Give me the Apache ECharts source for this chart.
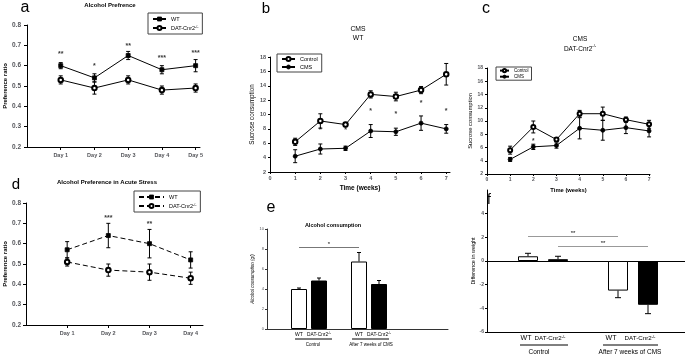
<!DOCTYPE html>
<html>
<head>
<meta charset="utf-8">
<script src="https://cdn.jsdelivr.net/npm/echarts@6/dist/echarts.min.js"></script>
<style>
html, body { margin: 0; padding: 0; background: #fff; }
#chart { width: 685px; height: 356px; }
</style>
</head>
<body>
<div id="chart"></div>
<script>
// a - alcohol preference
const daysA = [1, 2, 3, 4, 5];
const dayLabelsA = ['Day 1', 'Day 2', 'Day 3', 'Day 4', 'Day 5'];
const wtPrefA = [0.60, 0.54, 0.65, 0.58, 0.60];
const wtPrefErrA = [0.015, 0.02, 0.02, 0.02, 0.03];
const datPrefA = [0.53, 0.49, 0.53, 0.48, 0.49];
const datPrefErrA = [0.02, 0.03, 0.02, 0.02, 0.02];
const starsA = ['**', '*', '**', '***', '***'];
const starYA = [0.665, 0.61, 0.705, 0.645, 0.67];

// b / c - sucrose consumption (CMS)
const weeks = [1, 2, 3, 4, 5, 6, 7];
const weekTicks = [0, 1, 2, 3, 4, 5, 6, 7];
const ctrlB = [6.2, 9.1, 8.6, 12.8, 12.5, 13.4, 15.6];
const ctrlErrB = [0.5, 1.0, 0.3, 0.5, 0.6, 0.5, 1.5];
const cmsB = [4.2, 5.2, 5.3, 7.7, 7.6, 8.8, 8.0];
const cmsErrB = [0.9, 0.7, 0.3, 0.9, 0.5, 1.0, 0.6];
const starsB = ['', '*', '*', '*', '*', '*', '*'];
const starYB = [0, 8.1, 8.1, 10.8, 10.3, 11.9, 10.8];

const ctrlC = [5.6, 9.1, 7.2, 11.1, 11.1, 10.2, 9.5];
const ctrlErrC = [0.6, 0.9, 0.3, 0.5, 1.0, 0.4, 0.6];
const cmsC = [4.2, 6.1, 6.3, 8.9, 8.6, 9.0, 8.5];
const cmsErrC = [0.3, 0.4, 0.4, 1.6, 1.5, 0.9, 0.9];
const starsC = ['', '*', '', '', '', '', ''];
const starYC = [0, 7.2, 0, 0, 0, 0, 0];

// d - acute stress
const daysD = [1, 2, 3, 4];
const dayLabelsD = ['Day 1', 'Day 2', 'Day 3', 'Day 4'];
const wtPrefD = [0.57, 0.64, 0.60, 0.52];
const wtPrefErrD = [0.04, 0.06, 0.07, 0.04];
const datPrefD = [0.51, 0.47, 0.46, 0.43];
const datPrefErrD = [0.02, 0.03, 0.04, 0.03];
const starsD = ['', '***', '**', ''];
const starYD = [0, 0.735, 0.705, 0];

// e / f - bar panels (WT, DAT control; WT, DAT after CMS)
const genotypes = ['WT', 'DAT-Cnr2-/-'];
const groups = ['Control', 'After 7 weeks of CMS'];
const barCats = ['Control WT', 'Control DAT', 'gap', 'CMS WT', 'CMS DAT'];
const barSlots = [0, 1, 3, 4];
const barFills = ['#fff', '#000', '#fff', '#000'];
const alcohol = [4.0, 4.85, 6.75, 4.5];
const alcoholErr = [0.1, 0.25, 0.9, 0.35];
const weightDiff = [0.4, 0.15, -2.5, -3.7];
const weightDiffErr = [0.25, 0.25, 0.6, 0.75];

const FONT = 'Liberation Sans';
const supRich = {
  n: { fontSize: 5.5, fontFamily: FONT },
  s: { fontSize: 3.5, fontFamily: FONT, verticalAlign: 'top', lineHeight: 6 }
};

function pts(xs, ys) { return xs.map((x, i) => [x, ys[i]]); }
function errPts(xs, ys, es) { return xs.map((x, i) => [x, ys[i], es[i]]); }
function starPts(xs, ys, st) {
  return xs.map((x, i) => [x, ys[i], st[i]]).filter(d => d[2] !== '');
}
function withGap(arr, fills) {
  const out = barCats.map(() => '-');
  barSlots.forEach((s, i) => {
    out[s] = { value: arr[i], itemStyle: { color: fills[i] } };
  });
  return out;
}

function capLines(p, q, cap) {
  const st = { stroke: '#000', lineWidth: 1 };
  const kids = [{ type: 'line', shape: { x1: p[0], y1: p[1], x2: q[0], y2: q[1] }, style: st }];
  kids.push({ type: 'line', shape: { x1: q[0] - cap, y1: q[1], x2: q[0] + cap, y2: q[1] }, style: st });
  return kids;
}
function errRender(cap) {
  return function (params, api) {
    const x = api.value(0), y = api.value(1), e = api.value(2);
    const top = api.coord([x, y + e]);
    const bot = api.coord([x, y - e]);
    const mid = api.coord([x, y]);
    return { type: 'group', children: capLines(mid, top, cap).concat(capLines(mid, bot, cap)) };
  };
}
function barErrRender(cap) {
  return function (params, api) {
    const x = api.value(0), y = api.value(1), e = api.value(2);
    const p = api.coord([x, y]);
    const q = api.coord([x, y >= 0 ? y + e : y - e]);
    return { type: 'group', children: capLines(p, q, cap) };
  };
}

const blackAxis = { lineStyle: { color: '#000', width: 1 } };

function legendFmt(name) {
  const n = name.trim();
  if (n.indexOf('-/-') > 0) return '{n|' + n.replace('-/-', '') + '}{s|-/-}';
  return '{n|' + n + '}';
}

function lineSeries(name, xi, yi, data, symbol, dashed, size) {
  return {
    name: name, type: 'line', xAxisIndex: xi, yAxisIndex: yi, data: data,
    symbol: symbol, symbolSize: size || 4, z: 3,
    lineStyle: { color: '#000', width: 1, type: dashed ? [5, 3] : 'solid' },
    itemStyle: { color: '#000', borderColor: '#000', borderWidth: 0.8 },
    animation: false
  };
}
function errSeries(xi, yi, data, cap) {
  return {
    type: 'custom', xAxisIndex: xi, yAxisIndex: yi, data: data, z: 2,
    renderItem: errRender(cap), encode: { x: 0, y: 1 }, silent: true, animation: false
  };
}
function starSeries(xi, yi, data, size) {
  return {
    type: 'scatter', xAxisIndex: xi, yAxisIndex: yi, data: data, symbolSize: 0, z: 4,
    label: { show: true, position: 'inside', formatter: p => p.value[2], color: '#000',
      fontSize: size, fontWeight: 'bold', fontFamily: FONT, offset: [0, 2] },
    silent: true, animation: false
  };
}

const chart = echarts.init(document.getElementById('chart'), null, { renderer: 'canvas' });

const legendBase = {
  orient: 'vertical', selectedMode: false, borderColor: '#444', borderWidth: 1,
  formatter: legendFmt, itemStyle: { borderWidth: 0.8 }
};

const option = {
  animation: false,
  backgroundColor: '#fff',
  textStyle: { fontFamily: FONT, color: '#000' },
  grid: [
    { left: 27, top: 25, width: 173, height: 122 },
    { left: 270, top: 57, width: 180, height: 115 },
    { left: 487, top: 68, width: 163, height: 106 },
    { left: 26, top: 203, width: 177, height: 122 },
    { left: 267, top: 229, width: 181, height: 100 },
    { left: 289, top: 229, width: 100, height: 100 },
    { left: 487, top: 190, width: 198, height: 142 },
    { left: 513, top: 190, width: 150, height: 142 }
  ],
  xAxis: [
    { gridIndex: 0, type: 'value', min: 0, max: 5.13, interval: 1, splitLine: { show: false },
      axisLine: blackAxis,
      axisTick: { customValues: daysA, length: 3, lineStyle: { color: '#000' } },
      axisLabel: { customValues: daysA, formatter: v => dayLabelsA[v - 1], fontSize: 5.5, margin: 5, fontWeight: 'bold' } },
    { gridIndex: 1, type: 'value', min: 0, max: 7.15, interval: 1, splitLine: { show: false },
      axisLine: blackAxis,
      axisTick: { customValues: weekTicks, length: 2, lineStyle: { color: '#000' } },
      axisLabel: { customValues: weekTicks, fontSize: 5.5, margin: 3, fontWeight: 'bold' },
      name: 'Time (weeks)', nameLocation: 'middle', nameGap: 13,
      nameTextStyle: { fontSize: 6.5, fontWeight: 'bold' } },
    { gridIndex: 2, type: 'value', min: 0, max: 7.04, interval: 1, splitLine: { show: false },
      axisLine: blackAxis,
      axisTick: { customValues: weekTicks, length: 2, lineStyle: { color: '#000' } },
      axisLabel: { customValues: weekTicks, fontSize: 5, margin: 3, fontWeight: 'bold' },
      name: 'Time (weeks)', nameLocation: 'middle', nameGap: 13,
      nameTextStyle: { fontSize: 5.8, fontWeight: 'bold' } },
    { gridIndex: 3, type: 'value', min: 0, max: 4.3, interval: 1, splitLine: { show: false },
      axisLine: blackAxis,
      axisTick: { customValues: daysD, length: 3, lineStyle: { color: '#000' } },
      axisLabel: { customValues: daysD, formatter: v => dayLabelsD[v - 1], fontSize: 5.5, margin: 5, fontWeight: 'bold' } },
    { gridIndex: 4, type: 'value', min: 0, max: 1, splitLine: { show: false },
      axisLine: { lineStyle: { color: '#333', width: 1 } }, axisTick: { show: false }, axisLabel: { show: false } },
    { gridIndex: 5, type: 'category', data: barCats, axisLine: { show: false }, axisTick: { show: false },
      axisLabel: { interval: 0, margin: 3, hideOverlap: false,
        formatter: (v, i) => i === 2 ? '' : (i % 3 === 0 ? '{w|WT}' : '{n|DAT-Cnr2}{s|-/-}'),
        rich: { w: { fontSize: 5, fontFamily: FONT }, n: { fontSize: 4.8, fontFamily: FONT },
          s: { fontSize: 3, fontFamily: FONT, verticalAlign: 'top', lineHeight: 5 } } } },
    { gridIndex: 6, type: 'value', min: 0, max: 1, splitLine: { show: false },
      axisLine: { onZero: false, lineStyle: { color: '#000', width: 1 } }, axisTick: { show: false }, axisLabel: { show: false } },
    { gridIndex: 7, type: 'category', data: barCats, axisLine: { show: false, onZero: false }, axisTick: { show: false },
      axisLabel: { interval: 0, margin: 3, hideOverlap: false,
        formatter: (v, i) => i === 2 ? '' : (i === 0 ? '{w0|WT}' : (i === 3 ? '{w|WT}' : '{n|DAT-Cnr2}{s|-/-}')),
        rich: { w0: { fontSize: 7, fontFamily: FONT, padding: [0, 4, 2, 0] },
          w: { fontSize: 7, fontFamily: FONT, padding: [0, 14, 2, 0] },
          n: { fontSize: 6.2, fontFamily: FONT },
          s: { fontSize: 4, fontFamily: FONT, verticalAlign: 'top', lineHeight: 6, padding: [0, 16, 0, 0] } } } },
    { gridIndex: 6, type: 'value', min: 0, max: 1, position: 'top', splitLine: { show: false },
      axisLine: { onZero: true, lineStyle: { color: '#000', width: 1 } }, axisTick: { show: false }, axisLabel: { show: false } }
  ],
  yAxis: [
    { gridIndex: 0, type: 'value', min: 0.2, max: 0.8, interval: 0.1, splitLine: { show: false },
      axisLine: { show: true, lineStyle: { color: '#000' } },
      axisTick: { show: true, length: 3, lineStyle: { color: '#000' } },
      axisLabel: { formatter: v => v.toFixed(1), fontSize: 6.5, margin: 6, fontWeight: 'bold' },
      name: 'Preference ratio', nameLocation: 'middle', nameGap: 19,
      nameTextStyle: { fontSize: 6, fontWeight: 'bold' } },
    { gridIndex: 1, type: 'value', min: 2, max: 18, interval: 2, splitLine: { show: false },
      axisLine: { show: true, lineStyle: { color: '#000' } },
      axisTick: { show: true, length: 2, lineStyle: { color: '#000' } },
      axisLabel: { fontSize: 5.5, margin: 4, fontWeight: 'bold' },
      name: 'Sucrose consumption', nameLocation: 'middle', nameGap: 15,
      nameTextStyle: { fontSize: 6.3 } },
    { gridIndex: 2, type: 'value', min: 2, max: 18, interval: 2, splitLine: { show: false },
      axisLine: { show: true, lineStyle: { color: '#000' } },
      axisTick: { show: true, length: 2, lineStyle: { color: '#000' } },
      axisLabel: { fontSize: 5, margin: 4, fontWeight: 'bold' },
      name: 'Sucrose consumption', nameLocation: 'middle', nameGap: 12,
      nameTextStyle: { fontSize: 5.8 } },
    { gridIndex: 3, type: 'value', min: 0.2, max: 0.8, interval: 0.1, splitLine: { show: false },
      axisLine: { show: true, lineStyle: { color: '#000' } },
      axisTick: { show: true, length: 3, lineStyle: { color: '#000' } },
      axisLabel: { formatter: v => v.toFixed(1), fontSize: 6.5, margin: 5, fontWeight: 'bold' },
      name: 'Preference ratio', nameLocation: 'middle', nameGap: 17,
      nameTextStyle: { fontSize: 6, fontWeight: 'bold' } },
    { gridIndex: 4, type: 'value', min: 0, max: 10, interval: 2, splitLine: { show: false },
      axisLine: { show: true, lineStyle: { color: '#333' } },
      axisTick: { show: true, length: 2, lineStyle: { color: '#333' } },
      axisLabel: { fontSize: 4, margin: 3 },
      name: 'Alcohol consumption (g/)', nameLocation: 'middle', nameGap: 11,
      nameTextStyle: { fontSize: 4.5, fontStyle: 'italic' } },
    { gridIndex: 5, type: 'value', min: 0, max: 10, show: false },
    { gridIndex: 6, type: 'value', min: -6, max: 6, interval: 2, splitLine: { show: false },
      axisLine: { show: true, lineStyle: { color: '#000' } },
      axisTick: { show: true, length: 2, customValues: [-6, -4, -2, 0, 2, 4], lineStyle: { color: '#000' } },
      axisLabel: { customValues: [-6, -4, -2, 0, 2, 4], fontSize: 5, margin: 3, fontWeight: 'bold' },
      name: 'Difference in weight', nameLocation: 'middle', nameGap: 11,
      nameTextStyle: { fontSize: 5.4 } },
    { gridIndex: 7, type: 'value', min: -6, max: 6, show: false }
  ],
  legend: [
    Object.assign({}, legendBase, { data: ['WT', 'DAT-Cnr2-/-'], left: 148, top: 13,
      itemWidth: 13, itemHeight: 5, itemGap: 3, padding: [3, 4], textStyle: { rich: supRich } }),
    Object.assign({}, legendBase, { data: ['Control', 'CMS'], left: 277, top: 54,
      itemWidth: 13, itemHeight: 5, itemGap: 2, padding: [2, 4], textStyle: { rich: supRich } }),
    Object.assign({}, legendBase, { data: ['Control ', 'CMS '], left: 496, top: 67,
      itemWidth: 9, itemHeight: 4, itemGap: 1, padding: [1, 3],
      textStyle: { rich: { n: { fontSize: 4.5, fontFamily: FONT } } } }),
    Object.assign({}, legendBase, { data: ['WT ', 'DAT-Cnr2-/- '], left: 134, top: 191,
      itemWidth: 25, itemHeight: 5, itemGap: 3, padding: [3, 4], textStyle: { rich: supRich } })
  ],
  series: [
    // a
    errSeries(0, 0, errPts(daysA, wtPrefA, wtPrefErrA), 2),
    errSeries(0, 0, errPts(daysA, datPrefA, datPrefErrA), 2),
    lineSeries('WT', 0, 0, pts(daysA, wtPrefA), 'rect', false, 4),
    lineSeries('DAT-Cnr2-/-', 0, 0, pts(daysA, datPrefA), 'emptyCircle', false, 4.5),
    starSeries(0, 0, starPts(daysA, starYA, starsA), 7),
    // b
    errSeries(1, 1, errPts(weeks, ctrlB, ctrlErrB), 2),
    errSeries(1, 1, errPts(weeks, cmsB, cmsErrB), 2),
    lineSeries('Control', 1, 1, pts(weeks, ctrlB), 'emptyCircle', false, 4.5),
    lineSeries('CMS', 1, 1, pts(weeks, cmsB), 'circle', false, 4),
    starSeries(1, 1, starPts(weeks, starYB, starsB), 7),
    // c
    errSeries(2, 2, errPts(weeks, ctrlC, ctrlErrC), 2),
    errSeries(2, 2, errPts(weeks, cmsC, cmsErrC), 2),
    lineSeries('Control ', 2, 2, pts(weeks, ctrlC), 'emptyCircle', false, 4),
    lineSeries('CMS ', 2, 2, pts(weeks, cmsC), 'circle', false, 4),
    starSeries(2, 2, starPts(weeks, starYC, starsC), 6.5),
    // d
    errSeries(3, 3, errPts(daysD, wtPrefD, wtPrefErrD), 2),
    errSeries(3, 3, errPts(daysD, datPrefD, datPrefErrD), 2),
    lineSeries('WT ', 3, 3, pts(daysD, wtPrefD), 'rect', true, 4),
    lineSeries('DAT-Cnr2-/- ', 3, 3, pts(daysD, datPrefD), 'emptyCircle', true, 4.5),
    starSeries(3, 3, starPts(daysD, starYD, starsD), 7),
    // e
    {
      type: 'bar', xAxisIndex: 5, yAxisIndex: 5, data: withGap(alcohol, barFills), barWidth: 16, z: 2,
      itemStyle: { borderColor: '#000', borderWidth: 1 }, silent: true, animation: false,
      markLine: {
        silent: true, symbol: 'none', animation: false,
        lineStyle: { color: '#777', width: 1, type: 'solid' },
        label: { show: true, position: 'insideMiddleTop', distance: 0, formatter: p => p.name, fontSize: 6, color: '#000' },
        data: [[{ coord: [0, 8.2], name: '*' }, { coord: [3, 8.2] }]]
      }
    },
    {
      type: 'custom', xAxisIndex: 5, yAxisIndex: 5, z: 3, silent: true, animation: false,
      data: errPts(barSlots, alcohol, alcoholErr), encode: { x: 0, y: 1 }, renderItem: barErrRender(2)
    },
    // f
    {
      type: 'bar', xAxisIndex: 7, yAxisIndex: 7, data: withGap(weightDiff, barFills), barWidth: 20, z: 2,
      itemStyle: { borderColor: '#000', borderWidth: 1 }, silent: true, animation: false,
      markLine: {
        silent: true, symbol: 'none', animation: false,
        lineStyle: { color: '#999', width: 1, type: 'solid' },
        label: { show: true, position: 'insideMiddleTop', distance: 0, formatter: p => p.name, fontSize: 6, color: '#000' },
        data: [
          [{ coord: [0, 2.1], name: '**' }, { coord: [3, 2.1] }],
          [{ coord: [1, 1.25], name: '**' }, { coord: [4, 1.25] }]
        ]
      }
    },
    {
      type: 'custom', xAxisIndex: 7, yAxisIndex: 7, z: 3, silent: true, animation: false,
      data: errPts(barSlots, weightDiff, weightDiffErr), encode: { x: 0, y: 1 }, renderItem: barErrRender(3)
    }
  ],
  graphic: [
    // panel letters
    { type: 'text', x: 25, y: 8, style: { text: 'a', fontSize: 16, fontFamily: FONT, align: 'center', verticalAlign: 'middle', fill: '#000' } },
    { type: 'text', x: 266, y: 9, style: { text: 'b', fontSize: 15, fontFamily: FONT, align: 'center', verticalAlign: 'middle', fill: '#000' } },
    { type: 'text', x: 486, y: 9, style: { text: 'c', fontSize: 16, fontFamily: FONT, align: 'center', verticalAlign: 'middle', fill: '#000' } },
    { type: 'text', x: 16, y: 185, style: { text: 'd', fontSize: 15, fontFamily: FONT, align: 'center', verticalAlign: 'middle', fill: '#000' } },
    { type: 'text', x: 271, y: 208, style: { text: 'e', fontSize: 16, fontFamily: FONT, align: 'center', verticalAlign: 'middle', fill: '#000' } },
    { type: 'text', x: 489, y: 200, style: { text: 'f', fontSize: 14, fontFamily: FONT, align: 'center', verticalAlign: 'middle', fill: '#000' } },
    // panel titles
    { type: 'text', x: 110, y: 5, style: { text: 'Alcohol Prefrence', fontSize: 6, fontWeight: 'bold', fontFamily: FONT, align: 'center', verticalAlign: 'middle', fill: '#000' } },
    { type: 'text', x: 358, y: 33.5, style: { text: 'CMS\nWT', fontSize: 6.8, lineHeight: 9, fontFamily: FONT, align: 'center', verticalAlign: 'middle', fill: '#000' } },
    { type: 'text', x: 580, y: 44, style: { text: '{t|CMS}\n{t|DAT-Cnr2}{s|-/-}', align: 'center', verticalAlign: 'middle', fill: '#000',
        rich: { t: { fontSize: 6.5, lineHeight: 10, fontFamily: FONT }, s: { fontSize: 4, fontFamily: FONT, verticalAlign: 'top', lineHeight: 10 } } } },
    { type: 'text', x: 107, y: 182, style: { text: 'Alcohol Preference in Acute Stress', fontSize: 6, fontWeight: 'bold', fontFamily: FONT, align: 'center', verticalAlign: 'middle', fill: '#000' } },
    { type: 'text', x: 333, y: 225, style: { text: 'Alcohol consumption', fontSize: 5.5, fontWeight: 'bold', fontFamily: FONT, align: 'center', verticalAlign: 'middle', fill: '#000' } },
    // group brackets under bars
    { type: 'line', shape: { x1: 295, y1: 339, x2: 332, y2: 339 }, style: { stroke: '#000', lineWidth: 1 } },
    { type: 'line', shape: { x1: 352, y1: 339, x2: 389, y2: 339 }, style: { stroke: '#000', lineWidth: 1 } },
    { type: 'text', x: 313, y: 345, style: { text: groups[0], fontSize: 4.5, fontFamily: FONT, align: 'center', verticalAlign: 'middle', fill: '#000' } },
    { type: 'text', x: 371, y: 345, style: { text: groups[1], fontSize: 4.5, fontFamily: FONT, align: 'center', verticalAlign: 'middle', fill: '#000' } },
    { type: 'line', shape: { x1: 520, y1: 345, x2: 568, y2: 345 }, style: { stroke: '#000', lineWidth: 1 } },
    { type: 'line', shape: { x1: 603, y1: 345, x2: 658, y2: 345 }, style: { stroke: '#000', lineWidth: 1 } },
    { type: 'text', x: 539, y: 352, style: { text: groups[0], fontSize: 6.5, fontFamily: FONT, align: 'center', verticalAlign: 'middle', fill: '#000' } },
    { type: 'text', x: 630, y: 352, style: { text: groups[1], fontSize: 6.5, fontFamily: FONT, align: 'center', verticalAlign: 'middle', fill: '#000' } }
  ]
};

chart.setOption(option);
</script>
</body>
</html>
